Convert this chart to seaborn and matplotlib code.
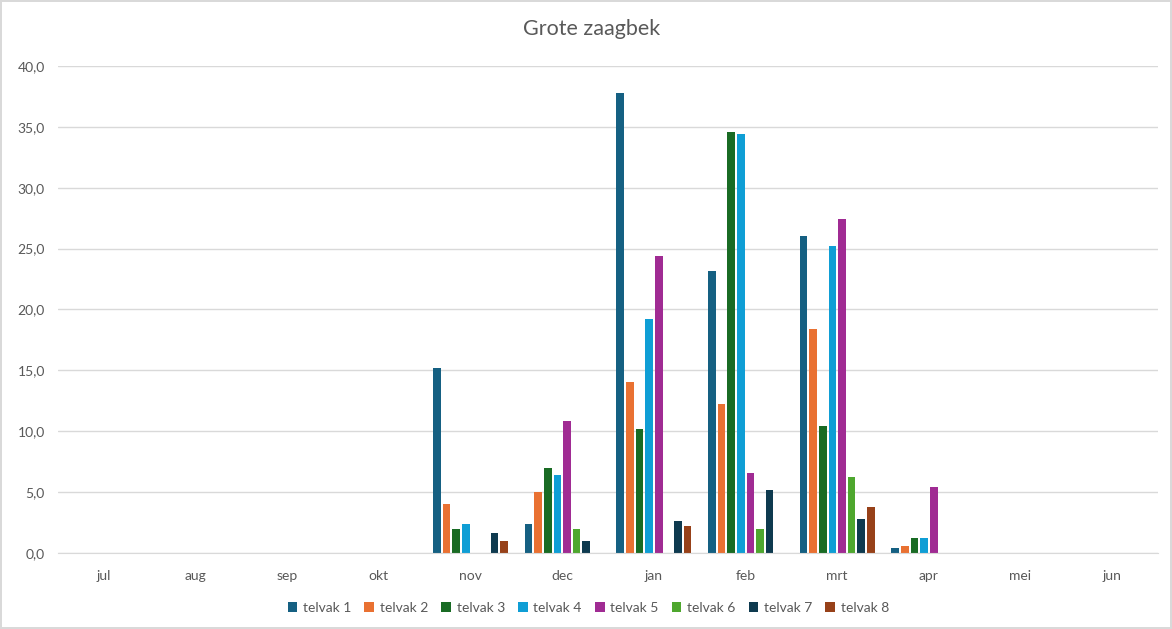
import seaborn as sns
import pandas as pd
import matplotlib.pyplot as plt
from matplotlib.ticker import FuncFormatter

months = ["jul", "aug", "sep", "okt", "nov", "dec", "jan", "feb", "mrt", "apr", "mei", "jun"]
series = ["telvak 1", "telvak 2", "telvak 3", "telvak 4", "telvak 5", "telvak 6", "telvak 7", "telvak 8"]

# one list per telvak, values per month jul..jun
telvak1 = [0, 0, 0, 0, 15.2, 2.4, 37.8, 23.2, 26.0, 0.4, 0, 0]
telvak2 = [0, 0, 0, 0, 4.0, 5.0, 14.0, 12.2, 18.4, 0.6, 0, 0]
telvak3 = [0, 0, 0, 0, 2.0, 7.0, 10.2, 34.6, 10.4, 1.2, 0, 0]
telvak4 = [0, 0, 0, 0, 2.4, 6.4, 19.2, 34.4, 25.2, 1.2, 0, 0]
telvak5 = [0, 0, 0, 0, 0, 10.8, 24.4, 6.6, 27.4, 5.4, 0, 0]
telvak6 = [0, 0, 0, 0, 0, 2.0, 0, 2.0, 6.2, 0, 0, 0]
telvak7 = [0, 0, 0, 0, 1.6, 1.0, 2.6, 5.2, 2.8, 0, 0, 0]
telvak8 = [0, 0, 0, 0, 1.0, 0, 2.2, 0, 3.8, 0, 0, 0]

colors = ["#156082", "#E97132", "#196B24", "#0F9ED5", "#A02B93", "#4EA72E", "#0E3A4F", "#974119"]

rows = []
for name, vals in zip(series, [telvak1, telvak2, telvak3, telvak4, telvak5, telvak6, telvak7, telvak8]):
    for m, v in zip(months, vals):
        rows.append([m, name, v])
df = pd.DataFrame(rows, columns=["maand", "telvak", "aantal"])

sns.set_style("white")
plt.rcParams["font.family"] = ["Lato", "DejaVu Sans"]

fig = plt.figure(figsize=(11.72, 6.29), dpi=100)
fig.patch.set_edgecolor("#d9d9d9")
fig.patch.set_linewidth(1.5)
ax = fig.add_axes([0.0495, 0.121, 0.9386, 0.774])

sns.barplot(data=df, x="maand", y="aantal", hue="telvak", order=months, hue_order=series,
            palette=colors, saturation=1, width=0.84, gap=0.2, linewidth=0, ax=ax, legend=True)

ax.set_ylim(0, 40)
ax.set_yticks(range(0, 41, 5))
ax.yaxis.set_major_formatter(FuncFormatter(lambda x, _: f"{x:.1f}".replace(".", ",")))
ax.grid(axis="y", color="#d9d9d9", linewidth=1)
ax.set_axisbelow(True)
for s in ["top", "right", "left"]:
    ax.spines[s].set_visible(False)
ax.spines["bottom"].set_color("#d9d9d9")
ax.tick_params(axis="both", length=0, labelsize=10, labelcolor="#595959")
ax.tick_params(axis="y", pad=9.5)
ax.tick_params(axis="x", pad=12)
ax.set_xlabel("")
ax.set_ylabel("")
ax.set_title("Grote zaagbek", fontsize=15.5, color="#595959", pad=22, x=0.485)

ax.legend(loc="upper center", bbox_to_anchor=(0.482, -0.075), ncol=8, frameon=False,
          fontsize=10, labelcolor="#595959", handlelength=0.7, handleheight=0.7,
          handletextpad=0.4, columnspacing=0.95)

fig.savefig("out.png", dpi=100, edgecolor=fig.get_edgecolor())
